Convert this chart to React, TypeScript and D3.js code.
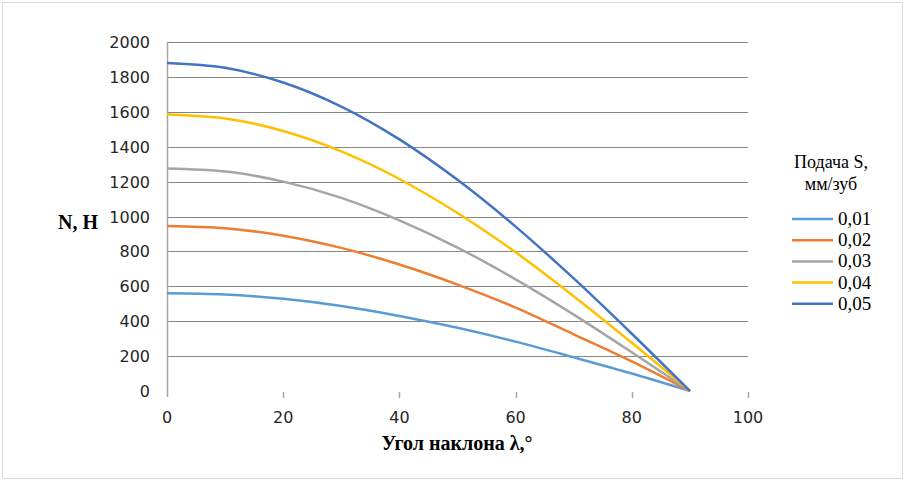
import React, { useRef, useEffect } from 'react';
import * as d3 from 'd3';

// angle of inclination, degrees
const angles = [0, 10, 20, 30, 40, 50, 60, 70, 80, 90];

// feed S, mm/tooth
const feedLabels = ['0,01', '0,02', '0,03', '0,04', '0,05'];
const feedColors = ['#5B9BD5', '#ED7D31', '#A5A5A5', '#FFC000', '#4472C4'];

// N, H
const n001 = [560, 553, 528, 487, 430, 362, 283, 193, 100, 0];
const n002 = [945, 932, 890, 820, 725, 610, 478, 325, 170, 0];
const n003 = [1275, 1258, 1200, 1107, 978, 822, 640, 438, 222, 0];
const n004 = [1585, 1562, 1490, 1373, 1215, 1020, 795, 543, 276, 0];
const n005 = [1880, 1852, 1768, 1630, 1442, 1210, 942, 645, 328, 0];

const series = [n001, n002, n003, n004, n005];

const xTicks = [0, 20, 40, 60, 80, 100];
const yTicks = [0, 200, 400, 600, 800, 1000, 1200, 1400, 1600, 1800, 2000];

const W = 905;
const H = 481;

const App = () => {
  const ref = useRef<SVGSVGElement>(null);

  useEffect(() => {
    if (!ref.current) return;
    const svg = d3.select(ref.current);
    svg.selectAll('*').remove();

    const left = 167, right = 748, top = 42, bottom = 391;

    const x = d3.scaleLinear().domain([0, 100]).range([left, right]);
    const y = d3.scaleLinear().domain([0, 2000]).range([bottom, top]);

    // outer frame
    svg.append('rect')
      .attr('x', 2.5).attr('y', 2.5)
      .attr('width', W - 5).attr('height', H - 5)
      .attr('fill', '#fff')
      .attr('stroke', '#d9d9d9');

    // horizontal grid
    svg.append('g')
      .selectAll('line')
      .data(yTicks.filter(d => d > 0))
      .enter()
      .append('line')
      .attr('x1', left).attr('x2', right)
      .attr('y1', d => Math.round(y(d)) + 0.5)
      .attr('y2', d => Math.round(y(d)) + 0.5)
      .attr('stroke', '#868686')
      .attr('stroke-width', 1);

    // y axis line
    svg.append('line')
      .attr('x1', left + 0.5).attr('x2', left + 0.5)
      .attr('y1', top).attr('y2', bottom + 6)
      .attr('stroke', '#a6a6a6')
      .attr('stroke-width', 1.5);

    // x ticks
    svg.append('g')
      .selectAll('line')
      .data(xTicks.filter(d => d > 0))
      .enter()
      .append('line')
      .attr('x1', d => Math.round(x(d)) + 0.5)
      .attr('x2', d => Math.round(x(d)) + 0.5)
      .attr('y1', bottom + 1).attr('y2', bottom + 7)
      .attr('stroke', '#a6a6a6')
      .attr('stroke-width', 1.5);

    // y tick labels
    svg.append('g')
      .selectAll('text')
      .data(yTicks)
      .enter()
      .append('text')
      .attr('x', 150)
      .attr('y', d => y(d) + 6)
      .attr('text-anchor', 'end')
      .attr('font-family', 'DejaVu Sans, sans-serif')
      .attr('font-size', 16)
      .attr('fill', '#262626')
      .text(d => d);

    // x tick labels
    svg.append('g')
      .selectAll('text')
      .data(xTicks)
      .enter()
      .append('text')
      .attr('x', d => x(d))
      .attr('y', bottom + 32)
      .attr('text-anchor', 'middle')
      .attr('font-family', 'DejaVu Sans, sans-serif')
      .attr('font-size', 16)
      .attr('fill', '#262626')
      .text(d => d);

    // lines
    const line = d3.line<number>()
      .x((_, i) => x(angles[i]))
      .y(d => y(d))
      .curve(d3.curveMonotoneX);

    svg.append('g')
      .selectAll('path')
      .data(series)
      .enter()
      .append('path')
      .attr('d', d => line(d))
      .attr('fill', 'none')
      .attr('stroke', (_, i) => feedColors[i])
      .attr('stroke-width', 2.5)
      .attr('stroke-linejoin', 'round');

    // axis titles
    svg.append('text')
      .attr('x', 78).attr('y', 229)
      .attr('text-anchor', 'middle')
      .attr('font-family', 'Liberation Serif, serif')
      .attr('font-weight', 'bold')
      .attr('font-size', 20)
      .attr('fill', '#000')
      .text('N, Н');

    svg.append('text')
      .attr('x', 457).attr('y', 450)
      .attr('text-anchor', 'middle')
      .attr('font-family', 'Liberation Serif, serif')
      .attr('font-weight', 'bold')
      .attr('font-size', 20)
      .attr('fill', '#000')
      .text('Угол наклона λ,°');

    // legend
    const lg = svg.append('g');
    lg.append('text')
      .attr('x', 831).attr('y', 168)
      .attr('text-anchor', 'middle')
      .attr('font-family', 'Liberation Serif, serif')
      .attr('font-size', 18)
      .text('Подача S,');
    lg.append('text')
      .attr('x', 831).attr('y', 190)
      .attr('text-anchor', 'middle')
      .attr('font-family', 'Liberation Serif, serif')
      .attr('font-size', 18)
      .text('мм/зуб');

    const items = lg.selectAll('g.item')
      .data(feedLabels)
      .enter()
      .append('g')
      .attr('class', 'item')
      .attr('transform', (_, i) => `translate(0,${219 + i * 21.2})`);
    items.append('line')
      .attr('x1', 792).attr('x2', 833)
      .attr('y1', 0).attr('y2', 0)
      .attr('stroke', (_, i) => feedColors[i])
      .attr('stroke-width', 2.5);
    items.append('text')
      .attr('x', 838).attr('y', 6)
      .attr('font-family', 'Liberation Serif, serif')
      .attr('font-size', 19)
      .attr('fill', '#000')
      .text(d => d);
  }, []);

  return (
    <svg
      ref={ref}
      width={W}
      height={H}
      style={{ position: 'absolute', left: 0, top: 0, background: '#fff' }}
    />
  );
};

export default App;
